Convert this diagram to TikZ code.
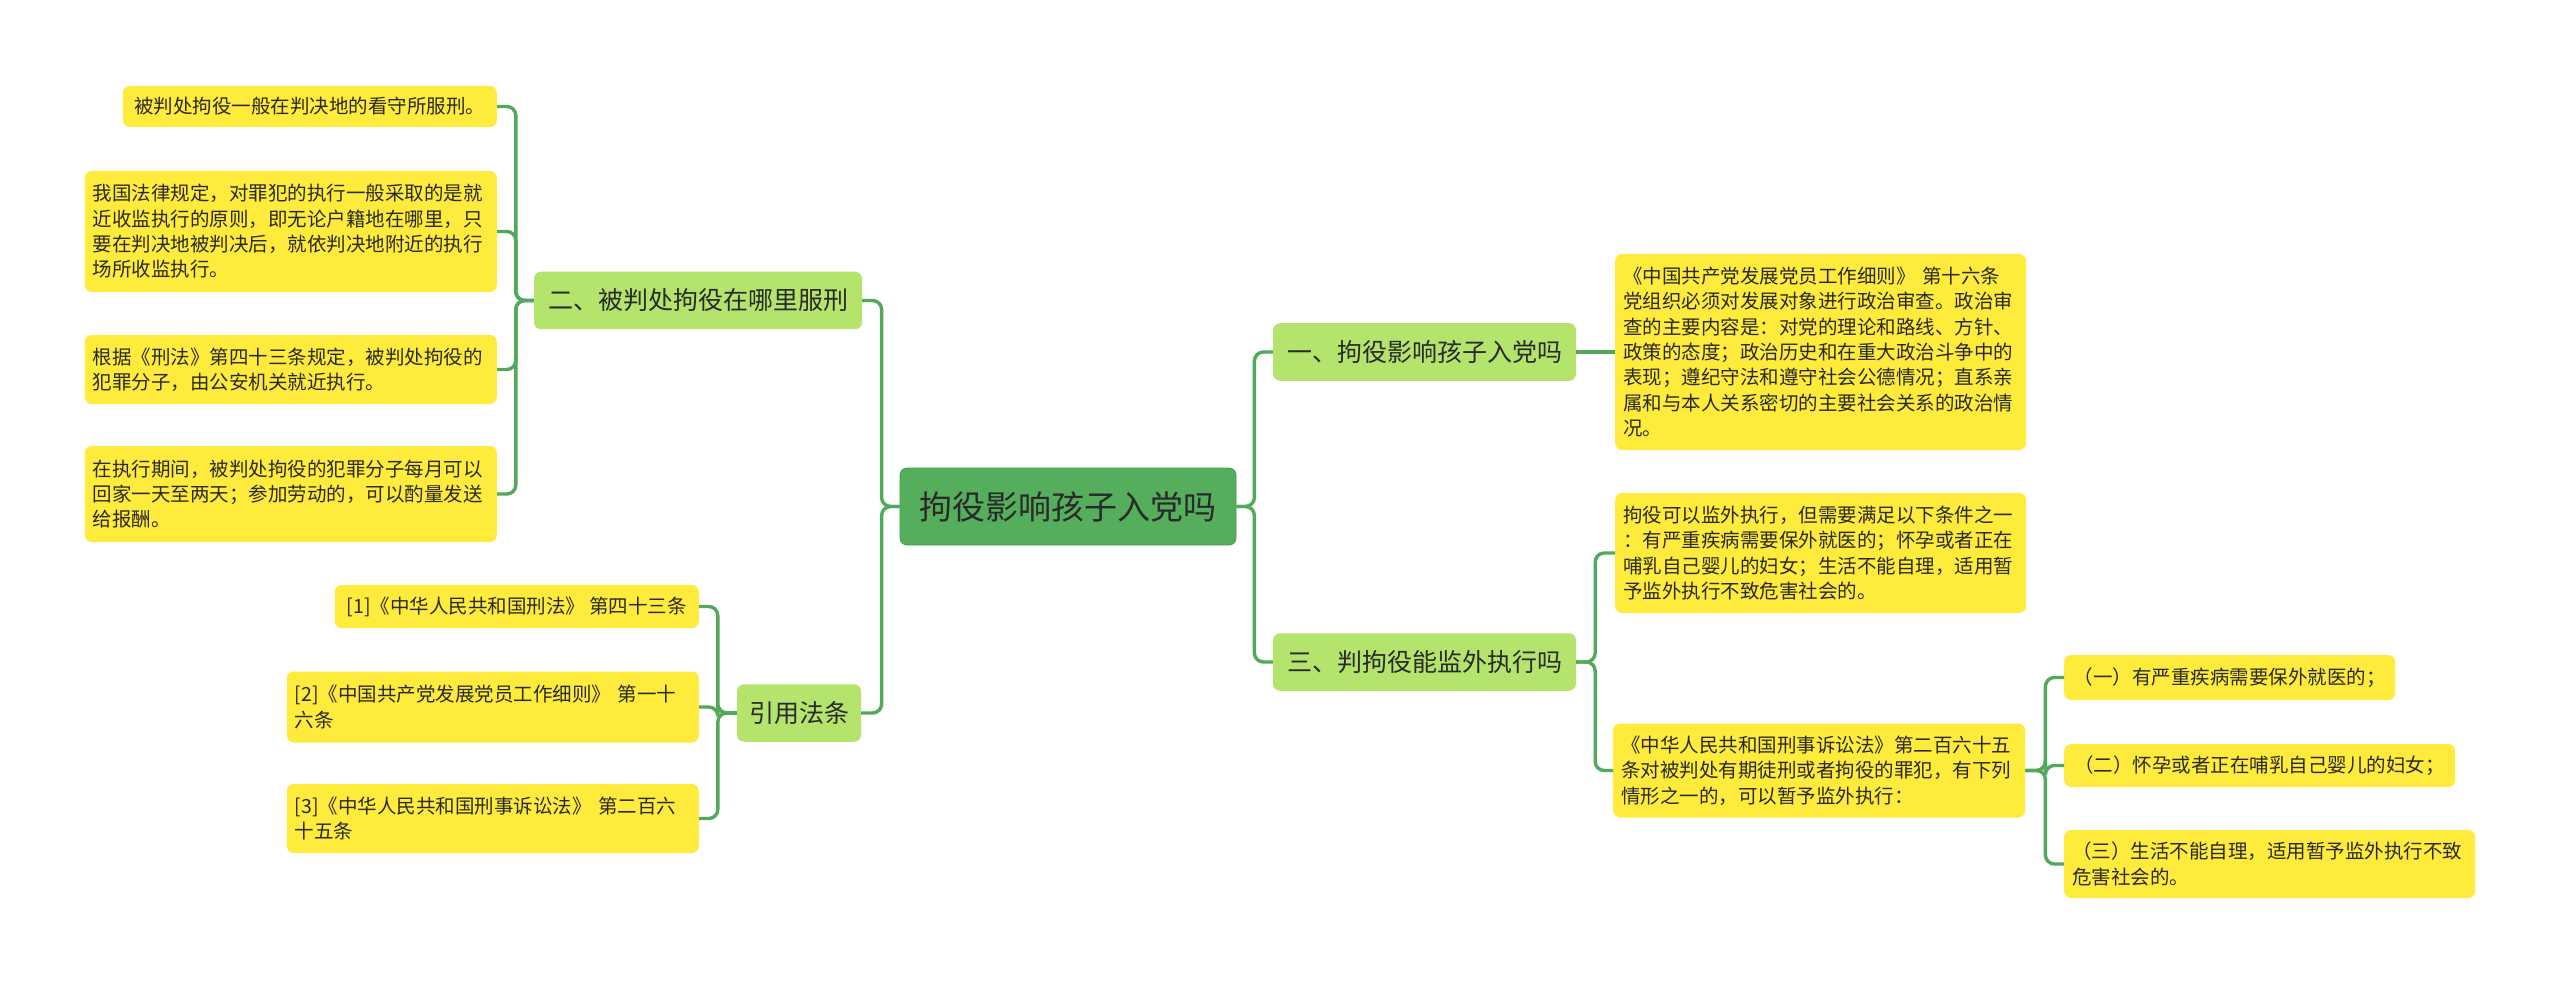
\documentclass[tikz,border=0pt]{standalone}
\usepackage{fontspec}
\setmainfont{Noto Sans CJK SC}
\usepackage{tikz}
\usetikzlibrary{positioning}

\definecolor{rootgreen}{HTML}{55AE5B}
\definecolor{rootedge}{HTML}{4A9D50}
\definecolor{topicgreen}{HTML}{B4E46C}
\definecolor{leafyellow}{HTML}{FFEB3B}
\definecolor{linkgreen}{HTML}{52A95C}
\definecolor{textdark}{HTML}{2A2A2A}

\tikzset{
  rootbox/.style={rectangle, rounded corners=7pt, fill=rootgreen, draw=rootedge, line width=0.8pt,
    text=textdark, font=\fontsize{33}{40}\selectfont, minimum height=77pt, inner xsep=14pt},
  topicbox/.style={rectangle, rounded corners=7pt, fill=topicgreen, text=textdark,
    font=\fontsize{25}{30}\selectfont, minimum height=57.5pt, inner xsep=10pt},
  leafbox/.style={rectangle, rounded corners=7pt, fill=leafyellow, text=textdark,
    font=\fontsize{19.5}{25.3}\selectfont, align=left, inner xsep=8pt, inner ysep=8pt},
  link/.style={draw=linkgreen, line width=3.4pt, rounded corners=9pt},
}

\begin{document}
\begin{tikzpicture}[x=1pt,y=-1pt]
    % Canvas
    \fill[white] (0,0) rectangle (2560,984);
    \useasboundingbox (0,0) rectangle (2560,984);

    % Root and topics
    \node[rootbox, minimum width=336pt] (root) at (1068,506.5) {拘役影响孩子入党吗};
    \node[topicbox, minimum width=328pt] (fuXing) at (698,300.5) {二、被判处拘役在哪里服刑};
    \node[topicbox, minimum width=124pt] (yinYong) at (799,713) {引用法条};
    \node[topicbox, minimum width=303pt] (ruDang) at (1424.5,352) {一、拘役影响孩子入党吗};
    \node[topicbox, minimum width=303pt] (jianWai) at (1424.5,662) {三、判拘役能监外执行吗};

    % Left leaves: where the sentence is served
    \node[leafbox, minimum width=374pt, minimum height=41pt, anchor=east] (fx1) at (497,106.5)
        {被判处拘役一般在判决地的看守所服刑。};
    \node[leafbox, text width=396pt, minimum height=121pt, anchor=east] (fx2) at (497,231.5)
        {我国法律规定，对罪犯的执行一般采取的是就\\近收监执行的原则，即无论户籍地在哪里，只\\要在判决地被判决后，就依判决地附近的执行\\场所收监执行。};
    \node[leafbox, text width=396pt, minimum height=69pt, anchor=east] (fx3) at (497,369.5)
        {根据《刑法》第四十三条规定，被判处拘役的\\犯罪分子，由公安机关就近执行。};
    \node[leafbox, text width=396pt, minimum height=96pt, anchor=east] (fx4) at (497,494)
        {在执行期间，被判处拘役的犯罪分子每月可以\\回家一天至两天；参加劳动的，可以酌量发送\\给报酬。};

    % Left leaves: cited articles
    \node[leafbox, minimum width=364pt, minimum height=43pt, anchor=east] (yy1) at (699,606.5)
        {[1]《中华人民共和国刑法》~第四十三条};
    \node[leafbox, text width=396pt, minimum height=71pt, anchor=east] (yy2) at (699,707)
        {[2]《中国共产党发展党员工作细则》~第一十\\六条};
    \node[leafbox, text width=396pt, minimum height=69pt, anchor=east] (yy3) at (699,818.5)
        {[3]《中华人民共和国刑事诉讼法》~第二百六\\十五条};

    % Right leaves
    \node[leafbox, text width=395pt, minimum height=196pt, anchor=west] (rd1) at (1615,352)
        {《中国共产党发展党员工作细则》~第十六条\\党组织必须对发展对象进行政治审查。政治审\\查的主要内容是：对党的理论和路线、方针、\\政策的态度；政治历史和在重大政治斗争中的\\表现；遵纪守法和遵守社会公德情况；直系亲\\属和与本人关系密切的主要社会关系的政治情\\况。};
    \node[leafbox, text width=395pt, minimum height=120pt, anchor=west] (jw1) at (1615,553)
        {拘役可以监外执行，但需要满足以下条件之一\\：有严重疾病需要保外就医的；怀孕或者正在\\哺乳自己婴儿的妇女；生活不能自理，适用暂\\予监外执行不致危害社会的。};
    \node[leafbox, text width=396pt, minimum height=94pt, anchor=west] (jw2) at (1613,770.5)
        {《中华人民共和国刑事诉讼法》第二百六十五\\条对被判处有期徒刑或者拘役的罪犯，有下列\\情形之一的，可以暂予监外执行：};
    \node[leafbox, minimum width=331pt, minimum height=45pt, anchor=west] (tj1) at (2064,677.5)
        {（一）有严重疾病需要保外就医的；};
    \node[leafbox, minimum width=391pt, minimum height=43pt, anchor=west] (tj2) at (2064,765.5)
        {（二）怀孕或者正在哺乳自己婴儿的妇女；};
    \node[leafbox, text width=395pt, minimum height=68pt, anchor=west] (tj3) at (2064,864)
        {（三）生活不能自理，适用暂予监外执行不致\\危害社会的。};

    % Connectors
    \foreach \t in {fuXing,yinYong}
        \draw[link] (root.west) -- ++(-18,0) |- (\t.east);
    \foreach \t in {ruDang,jianWai}
        \draw[link] (root.east) -- ++(18,0) |- (\t.west);
    \foreach \l in {fx1,fx2,fx3,fx4}
        \draw[link] (fuXing.west) -- ++(-18,0) |- (\l.east);
    \foreach \l in {yy1,yy2,yy3}
        \draw[link] (yinYong.west) -- ++(-19,0) |- (\l.east);
    \draw[link] (ruDang.east) -- (rd1.west);
    \foreach \l in {jw1,jw2}
        \draw[link] (jianWai.east) -- ++(19,0) |- (\l.west);
    \foreach \l in {tj1,tj2,tj3}
        \draw[link] (jw2.east) -- ++(20,0) |- (\l.west);
\end{tikzpicture}
\end{document}
